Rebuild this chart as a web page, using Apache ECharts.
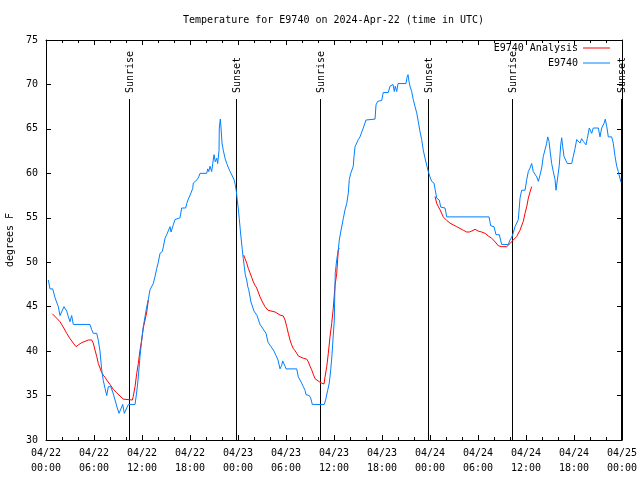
<!DOCTYPE html>
<html><head><meta charset="utf-8">
<script src="https://cdn.jsdelivr.net/npm/echarts@6/dist/echarts.min.js"></script>
<style>html,body{margin:0;padding:0;background:#fff}#c{width:640px;height:480px}</style>
</head><body><div id="c"></div>
<script>
const FONT = 'DejaVu Sans Mono';
const titleText = 'Temperature for E9740 on 2024-Apr-22 (time in UTC)';
const yAxisName = 'degrees F';
const seriesNames = ['E9740 Analysis', 'E9740'];
const xTickLabels = ['04/22\n00:00','04/22\n06:00','04/22\n12:00','04/22\n18:00','04/23\n00:00','04/23\n06:00','04/23\n12:00','04/23\n18:00','04/24\n00:00','04/24\n06:00','04/24\n12:00','04/24\n18:00','04/25\n00:00'];

// hours since 2024-04-22 00:00 UTC
const sunTimes  = [10.41, 23.79, 34.29, 47.79, 58.29, 71.88];
const sunLabels = ['Sunrise','Sunset','Sunrise','Sunset','Sunrise','Sunset'];

const obsHours = [
0.29,0.5,0.84,1.13,1.34,1.54,1.75,2.0,2.25,2.59,
2.75,3.0,3.21,3.41,5.5,5.71,5.91,6.34,6.54,6.75,
6.96,7.16,7.38,7.59,7.79,8.09,8.34,8.63,8.91,9.13,
9.34,9.59,9.79,10.0,10.29,11.13,11.34,11.54,11.75,11.96,
12.16,12.38,12.59,12.79,13.0,13.21,13.41,13.63,13.84,14.04,
14.25,14.54,14.66,14.88,15.09,15.25,15.5,15.63,15.79,15.91,
16.13,16.25,16.75,16.96,17.46,17.59,17.79,18.13,18.34,18.41,
18.63,18.91,19.09,19.25,20.09,20.21,20.34,20.5,20.71,20.84,
21.0,21.16,21.34,21.46,21.63,21.66,21.79,21.88,22.0,22.16,
22.38,22.59,22.79,22.91,23.13,23.34,23.5,23.66,23.79,23.91,
24.04,24.16,24.29,24.41,24.54,24.66,24.79,24.91,25.09,25.21,
25.34,25.63,26.0,26.38,26.75,27.13,27.5,27.75,28.13,28.5,
28.75,29.0,29.25,29.46,29.59,29.75,29.88,30.0,31.34,31.54,
31.75,31.96,32.16,32.38,32.5,32.91,33.09,33.29,34.79,35.0,
35.21,35.41,35.59,35.75,35.91,36.04,36.09,36.16,36.34,36.54,
36.66,36.88,37.16,37.38,37.59,37.79,37.91,38.09,38.21,38.41,
38.5,38.63,38.84,39.04,39.25,39.46,39.66,39.88,40.0,40.16,
41.13,41.25,41.46,41.96,42.16,42.79,43.0,43.21,43.38,43.54,
43.66,43.84,44.0,45.0,45.13,45.25,45.38,45.5,45.71,45.91,
46.13,46.34,46.54,46.75,46.96,47.16,47.38,47.59,47.79,48.0,
48.21,48.5,48.66,48.84,49.16,49.34,49.88,50.09,55.38,55.59,
56.0,56.25,56.66,56.96,57.79,58.0,58.21,58.41,58.63,58.84,
59.04,59.25,59.46,59.88,60.09,60.29,60.5,60.71,60.91,61.13,
61.34,61.54,61.75,61.96,62.16,62.38,62.59,62.71,62.88,63.0,
63.21,63.41,63.63,63.75,63.94,64.16,64.34,64.46,64.59,64.75,
65.0,65.16,65.71,65.91,66.13,66.34,66.54,66.75,66.96,67.16,
67.5,67.66,67.91,68.21,68.41,69.04,69.25,69.46,69.75,69.91,
70.09,70.29,70.71,70.91,71.13,71.34,71.54,71.75,71.88
];
const obsTemp = [
48,47,47,46,46,45,44,44,45,44.5,
44,43.3,44,43,43,42.4,42,42,41.2,40,
37.9,36.7,35.8,35,36,36,35.4,34.5,33.6,33,
33,34,33,33,34,34,35.4,37.1,39.4,41.2,
42.7,43.9,45,45.8,46.9,47.1,47.6,48.4,49.3,50,
51,51.2,51.7,52.7,53.1,53.1,54,53.4,53.6,54.2,
54.8,55,55,56.1,56.1,56.6,57.1,57.8,58.3,58.9,
59.1,59.3,59.6,60,60,60.5,60.2,60.8,60.2,61.1,
62.1,61.3,61.7,61.1,62.6,65.1,66.1,65.1,63.4,62.6,
61.7,61.1,60.9,60.4,60,59.8,59.3,58.7,58,57,
56,54.9,53.6,52.5,51.4,50.4,49.5,48.6,48,47.3,
46.9,45.5,44.5,44,43,42.5,42,41,40.5,40,
39.5,39,38,38.4,38.9,38.9,38.3,38,38,37.1,
36.9,36.4,36,35.6,35.1,35,34.7,34,34,34.7,
35.6,36.4,37.9,39.6,41.8,43.5,46.1,48.8,50.3,51.4,
52.5,53.6,54.9,55.9,56.6,57.8,59.3,60,60.2,60.8,
61.9,63,63.2,63.8,64.1,64.3,65.1,65.3,66,66.1,
66.1,67.7,68.1,68.2,69.1,69.1,69.8,70,70,69.2,
69.8,69.2,70.1,70.1,70.8,71.1,70.3,69.8,69.2,68.3,
67.5,66.8,65.8,64.7,63.8,62.6,61.7,60.9,60.2,59.6,
59.1,58.9,58.1,57.2,57,56.2,56.1,55.1,55.1,54.1,
54,53.1,53.1,52,52,52.5,52.8,53.3,54,54.1,
54.8,57.2,58.1,58.1,59.3,60.2,60.6,61.1,60.2,60,
59.6,59.1,59.8,60.6,61.9,62.1,63.4,64.1,63.6,62.6,
61.1,60.2,59.3,58.1,58.1,60.9,63.2,64,63,61.9,
61.4,61.1,61.1,61.9,62.8,63.8,63.9,63.4,63.9,63.6,
63.2,63.9,65.1,64.5,65.1,65.1,64.1,65.1,65.6,66.1,
65.3,64.1,64.1,63.4,61.9,60.8,60.2,59.4,59
];

// analysis: null temperature = gap between runs
const anaHours = [
0.79,1.34,1.75,2.16,2.59,3.0,3.41,3.75,4.04,4.46,4.88,5.29,5.71,5.91,6.13,6.34,6.54,6.75,6.96,7.16,
7.38,7.59,8.0,8.41,8.84,9.25,9.66,9.79,10.79,10.91,11.13,11.34,11.54,11.75,11.96,12.16,12.38,12.59,12.79,
18,
24.71,24.88,25.09,25.29,25.5,25.71,25.91,26.13,26.34,26.54,26.75,27.13,27.38,27.75,28.63,29.25,29.66,29.88,30.09,30.29,
30.5,30.71,30.91,31.13,31.34,31.54,31.75,32.16,32.59,32.79,33.0,33.21,33.41,33.63,33.84,34.16,34.46,34.75,34.88,35.09,
35.29,35.5,35.71,35.91,36.13,36.34,36.54,36.66,
42,
48.63,48.84,49.25,49.66,50.09,50.5,50.91,51.34,51.75,52.16,52.59,52.91,53.21,53.63,54.04,54.46,54.88,55.29,55.71,56.13,
56.54,56.96,57.59,58.0,58.41,58.84,59.25,59.66,59.88,60.09,60.29,60.5,60.71
];
const anaTemp = [
44.2,43.7,43.3,42.7,42,41.4,40.9,40.5,40.7,40.95,41.1,41.25,41.25,40.9,40.1,39.4,38.6,38.1,37.6,37.3,
37.05,36.75,36.25,35.7,35.3,34.95,34.6,34.5,34.5,34.9,36,37.5,38.6,40.1,41.25,42.6,43.5,44.4,45.75,
null,
50.8,50.4,49.9,49.3,48.8,48.3,47.8,47.4,47.1,46.9,46.1,45.4,45,44.6,44.4,44.06,43.95,43.5,42.75,42,
41.25,40.7,40.3,40.05,39.75,39.45,39.26,39.2,39.1,38.8,38.3,37.9,37.4,36.9,36.7,36.55,36.4,36.3,37.1,38.25,
39.75,41.6,43.1,44.8,47.4,48.75,51.4,51.6,
null,
57.4,56.6,55.9,55.1,54.7,54.4,54.2,54,53.8,53.6,53.4,53.4,53.5,53.7,53.5,53.4,53.25,52.95,52.7,52.3,
51.85,51.75,51.75,52.1,52.5,52.9,53.6,54.6,55.5,56.25,57.2,57.9,58.5
];

const X_MIN = 0, X_MAX = 72, X_STEP = 6;
const Y_MIN = 30, Y_MAX = 75, Y_STEP = 5;

const obsData = obsHours.map((h, i) => [h, obsTemp[i]]);
const anaData = anaHours.map((h, i) => [h, anaTemp[i] === null ? '-' : anaTemp[i]]);
const sunData = sunTimes.map(t => [t, Y_MIN]);

const black = '#000';
const RED = '#ff0000', BLUE = '#0080ff';
const txt = {fontFamily: FONT, fontSize: 10, color: black};

function xAxisCfg(pos, showLabel) {
  return {
    type: 'value', position: pos, min: X_MIN, max: X_MAX, interval: X_STEP,
    axisLine: {show: true, onZero: false, lineStyle: {color: black, width: 1}},
    axisTick: {show: true, inside: true, length: 5, lineStyle: {color: black}},
    minorTick: {show: true, splitNumber: 3, length: 3, lineStyle: {color: black}},
    splitLine: {show: false}, minorSplitLine: {show: false},
    axisLabel: {show: showLabel, ...txt, lineHeight: 15, margin: 6, showMinLabel: true, showMaxLabel: true,
      formatter: v => xTickLabels[Math.round((v - X_MIN) / X_STEP)]}
  };
}
function yAxisCfg(pos, showLabel) {
  const c = {
    type: 'value', position: pos, min: Y_MIN, max: Y_MAX, interval: Y_STEP,
    axisLine: {show: true, onZero: false, lineStyle: {color: black, width: 1}},
    axisTick: {show: true, inside: true, length: 5, lineStyle: {color: black}},
    splitLine: {show: false},
    axisLabel: {show: showLabel, ...txt, margin: 8, showMinLabel: true, showMaxLabel: true}
  };
  if (showLabel) {
    c.name = yAxisName; c.nameLocation = 'middle'; c.nameGap = 31;
    c.nameTextStyle = {...txt};
  }
  return c;
}

const chart = echarts.init(document.getElementById('c'), null, {renderer: 'canvas'});
chart.setOption({
  animation: false,
  backgroundColor: '#fff',
  title: {text: titleText, left: 183, top: 15, padding: 0,
    textStyle: {fontFamily: FONT, fontSize: 10, fontWeight: 'normal', color: black}},
  legend: {
    data: seriesNames, orient: 'vertical', align: 'right', right: 30, top: 42, padding: 0,
    icon: 'path://M0,0H27V1H0Z', symbolKeepAspect: true,
    itemWidth: 27, itemHeight: 12, itemGap: 3,
    textStyle: {...txt, lineHeight: 12}
  },
  grid: {left: 46, right: 18, top: 40, bottom: 40, containLabel: false, outerBoundsMode: 'none'},
  xAxis: [xAxisCfg('bottom', true), xAxisCfg('top', false)],
  yAxis: [yAxisCfg('left', true), yAxisCfg('right', false)],
  series: [
    {
      type: 'custom', name: 'sun', data: sunData, z: 1, silent: true,
      encode: {x: 0, y: 1},
      renderItem: function (params, api) {
        const p = api.coord([api.value(0), Y_MIN]);
        const top = params.coordSys.y;
        const x = Math.round(p[0] - 0.5) + 0.5;
        return {
          type: 'group',
          children: [
            {type: 'line', shape: {x1: x, y1: top + 59, x2: x, y2: p[1]},
             style: {stroke: black, lineWidth: 1}},
            {type: 'text', x: x + 1, y: top + 53, rotation: Math.PI / 2,
             style: {text: sunLabels[params.dataIndex], fontFamily: FONT, fontSize: 10, fill: black,
                     align: 'left', verticalAlign: 'middle', textAlign: 'left', textVerticalAlign: 'middle'}}
          ]
        };
      }
    },
    {
      type: 'line', name: seriesNames[0], data: anaData, symbol: 'none', connectNulls: false, z: 3,
      color: RED, itemStyle: {color: RED}, lineStyle: {color: RED, width: 1}
    },
    {
      type: 'line', name: seriesNames[1], data: obsData, symbol: 'none', z: 4,
      color: BLUE, itemStyle: {color: BLUE}, lineStyle: {color: BLUE, width: 1}
    }
  ]
});
</script>
</body></html>
